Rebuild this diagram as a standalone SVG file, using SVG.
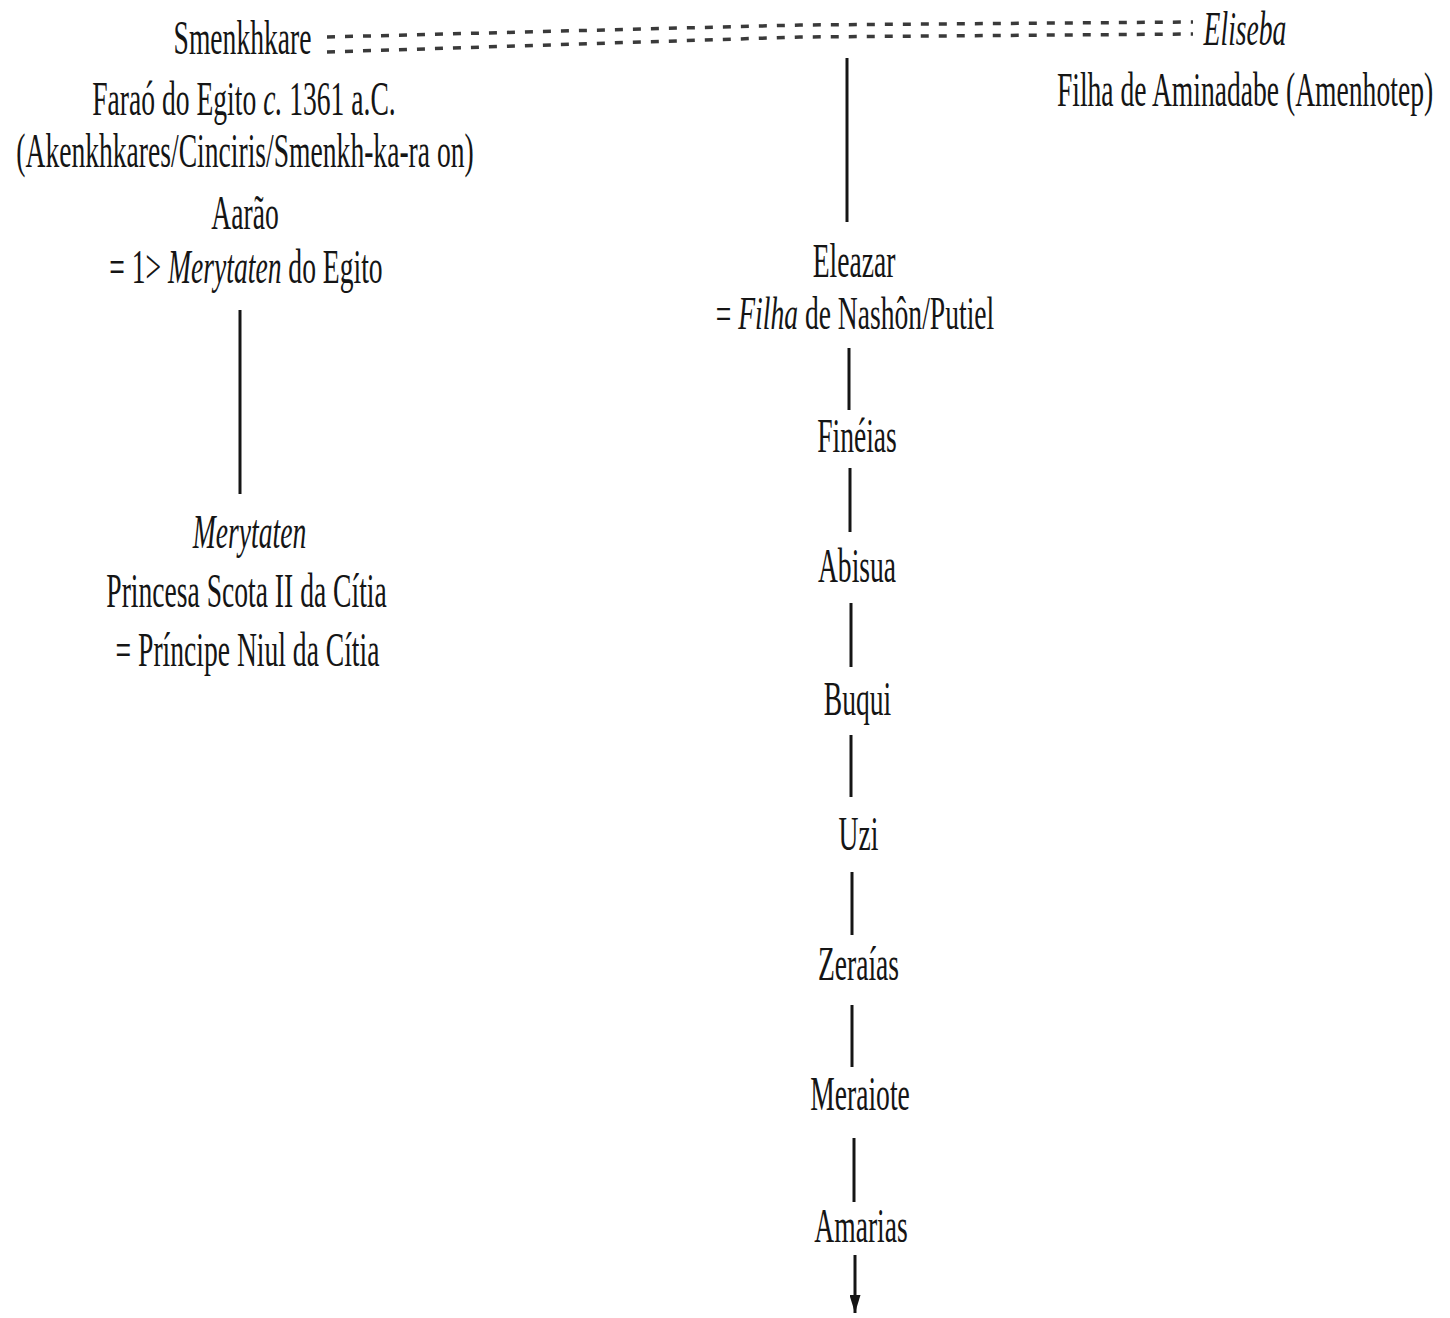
<svg xmlns="http://www.w3.org/2000/svg" width="1450" height="1318" viewBox="0 0 1450 1318">
  <style>
    text { font-family: "Liberation Serif", "Times New Roman", serif; font-size: 48px; fill: #151515; text-anchor: middle; }
    .it { font-style: italic; }
    .sm { font-size: 46px; }
    .link { stroke: #151515; stroke-width: 3; fill: none; }
    .marriage { stroke: #3a3a3a; stroke-width: 3.5; fill: none; stroke-dasharray: 8 10; }
  </style>
  <defs>
    <marker id="arrow" viewBox="0 0 18 11" refX="18" refY="5.5" markerWidth="18" markerHeight="11" markerUnits="userSpaceOnUse" orient="auto">
      <path d="M0 0 L18 5.5 L0 11 Z" fill="#151515"/>
    </marker>
  </defs>
  <rect width="1450" height="1318" fill="#ffffff"/>

  <!-- connectors -->
  <g id="connectors">
    <!-- marriage: Smenkhkare = Eliseba (double dashed) -->
    <polyline class="marriage" points="327,37 800,25 1193,22"/>
    <polyline class="marriage" points="327,52 800,37 1193,34"/>
    <!-- descent lines -->
    <line class="link" x1="847" y1="58" x2="847" y2="222"/>
    <line class="link" x1="240" y1="310" x2="240" y2="494"/>
    <line class="link" x1="849" y1="348" x2="849" y2="410"/>
    <line class="link" x1="850" y1="468" x2="850" y2="532"/>
    <line class="link" x1="851" y1="603" x2="851" y2="667"/>
    <line class="link" x1="851" y1="735" x2="851" y2="797"/>
    <line class="link" x1="852" y1="872" x2="852" y2="935"/>
    <line class="link" x1="852" y1="1005" x2="852" y2="1067"/>
    <line class="link" x1="854" y1="1138" x2="854" y2="1202"/>
    <line class="link" x1="855" y1="1255" x2="855" y2="1313" marker-end="url(#arrow)"/>
  </g>

  <!-- Smenkhkare / Aarão (condensed serif: uniform horizontal squeeze) -->
  <g id="smenkhkare">
    <text transform="translate(242.5 54) scale(0.575 1)">Smenkhkare</text>
    <text transform="translate(244 115) scale(0.575 1)">Faraó do Egito <tspan class="it">c.</tspan> 1361 a.C.</text>
    <text transform="translate(245 167) scale(0.575 1)">(Akenkhkares/Cinciris/Smenkh-ka-ra on)</text>
    <text transform="translate(245 229) scale(0.575 1)">Aarão</text>
    <text transform="translate(246 283) scale(0.575 1)">= 1&gt; <tspan class="it">Merytaten</tspan> do Egito</text>
  </g>

  <!-- Eliseba -->
  <g id="eliseba">
    <text class="it" transform="translate(1245 45) scale(0.575 1)">Eliseba</text>
    <text transform="translate(1245 106) scale(0.575 1)">Filha de Aminadabe (Amenhotep)</text>
  </g>

  <!-- Merytaten -->
  <g id="merytaten">
    <text class="it" transform="translate(249.5 548) scale(0.575 1)">Merytaten</text>
    <text transform="translate(246.5 607) scale(0.575 1)">Princesa Scota II da Cítia</text>
    <text transform="translate(247.5 666) scale(0.575 1)">= Príncipe Niul da Cítia</text>
  </g>

  <!-- Eleazar -->
  <g id="eleazar">
    <text transform="translate(854 277) scale(0.575 1)">Eleazar</text>
    <text class="sm" transform="translate(855 329) scale(0.6 1)">= <tspan class="it">Filha</tspan> de Nashôn/Putiel</text>
  </g>

  <g id="fineias"><text transform="translate(857 452) scale(0.575 1)">Finéias</text></g>
  <g id="abisua"><text transform="translate(857 582) scale(0.575 1)">Abisua</text></g>
  <g id="buqui"><text transform="translate(857.5 715) scale(0.575 1)">Buqui</text></g>
  <g id="uzi"><text transform="translate(858.5 850) scale(0.575 1)">Uzi</text></g>
  <g id="zeraias"><text transform="translate(858.5 980) scale(0.575 1)">Zeraías</text></g>
  <g id="meraiote"><text transform="translate(860 1110) scale(0.575 1)">Meraiote</text></g>
  <g id="amarias"><text transform="translate(861 1242) scale(0.575 1)">Amarias</text></g>
</svg>
